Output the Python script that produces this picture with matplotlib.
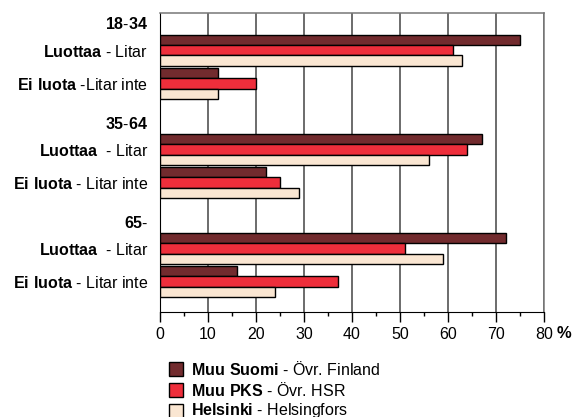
import matplotlib
matplotlib.use("Agg")
import matplotlib.pyplot as plt
import numpy as np
from matplotlib.ticker import MultipleLocator
from matplotlib.patches import Rectangle

plt.rcParams['font.family'] = ['Liberation Sans', 'DejaVu Sans']
plt.rcParams['mathtext.fontset'] = 'custom'
plt.rcParams['mathtext.rm'] = 'Liberation Sans'
plt.rcParams['mathtext.bf'] = 'Liberation Sans:bold'

row_labels = ["$\\bf{18\\text{-}34}$", "$\\bf{Luottaa}$ - Litar", "$\\bf{Ei\\ luota}$ -Litar inte",
              "$\\bf{35\\text{-}64}$", "$\\bf{Luottaa}$  - Litar", "$\\bf{Ei\\ luota}$ - Litar inte",
              "$\\bf{65\\text{-}}$", "$\\bf{Luottaa}$  - Litar", "$\\bf{Ei\\ luota}$ - Litar inte"]
header_rows = [0, 3, 6]

series_names = ["Muu Suomi", "Muu PKS", "Helsinki"]
series_sub = ["Övr. Finland", "Övr. HSR", "Helsingfors"]
# values per row (None = header row)
muu_suomi = [None, 75, 12, None, 67, 22, None, 72, 16]
muu_pks = [None, 61, 20, None, 64, 25, None, 51, 37]
helsinki = [None, 63, 12, None, 56, 29, None, 59, 24]
colors = ["#722B2E", "#EE2E3B", "#FAE6D2"]
x_ticks = [0, 10, 20, 30, 40, 50, 60, 70, 80]

fig = plt.figure(figsize=(5.75, 4.17), dpi=100)
ax = fig.add_axes([160/575, 1-312/417, 384/575, 299/417])

h = 0.312
offsets = [-h, 0, h]
for s, (vals, col) in enumerate(zip([muu_suomi, muu_pks, helsinki], colors)):
    ys = [i + offsets[s] for i, v in enumerate(vals) if v is not None]
    ws = [v for v in vals if v is not None]
    ax.barh(ys, ws, height=h, color=col, edgecolor='black', linewidth=1.0, zorder=3)

ax.set_xlim(0, 80)
ax.set_ylim(8.92, -0.13)
ax.set_xticks(x_ticks)
ax.set_xticklabels([str(t) for t in x_ticks], fontsize=11.5)
ax.xaxis.set_minor_locator(MultipleLocator(5))
ax.tick_params(axis='x', which='major', length=7, width=1, direction='out', pad=4)
ax.tick_params(axis='x', which='minor', length=3, width=1, direction='out')
ax.grid(axis='x', color='#444444', linewidth=1.1, zorder=0)

ypos = [i + (0.17 if i in header_rows else 0) for i in range(len(row_labels))]
ax.set_yticks(ypos)
ax.set_yticklabels(row_labels, fontsize=11.5)
ax.tick_params(axis='y', length=0, pad=8.5)

for sp in ['top', 'right']:
    ax.spines[sp].set_color('#777777')
    ax.spines[sp].set_linewidth(1.1)
ax.spines['left'].set_color('black')
ax.spines['bottom'].set_color('black')

fig.text(557/575, 1-334/417, "%", fontsize=12, fontweight='bold', ha='left', va='center')

# manual legend
for k in range(3):
    yc = 1 - (369 + 21*k)/417
    fig.patches.append(Rectangle((169/575, yc - 7/417), 14/575, 14/417, transform=fig.transFigure,
                                 facecolor=colors[k], edgecolor='black', linewidth=1.0))
    name = series_names[k].replace(' ', '\\ ')
    fig.text(191/575, yc, f"$\\bf{{{name}}}$ - {series_sub[k]}", fontsize=11.5, ha='left', va='center')

fig.savefig("out.png", dpi=100)
